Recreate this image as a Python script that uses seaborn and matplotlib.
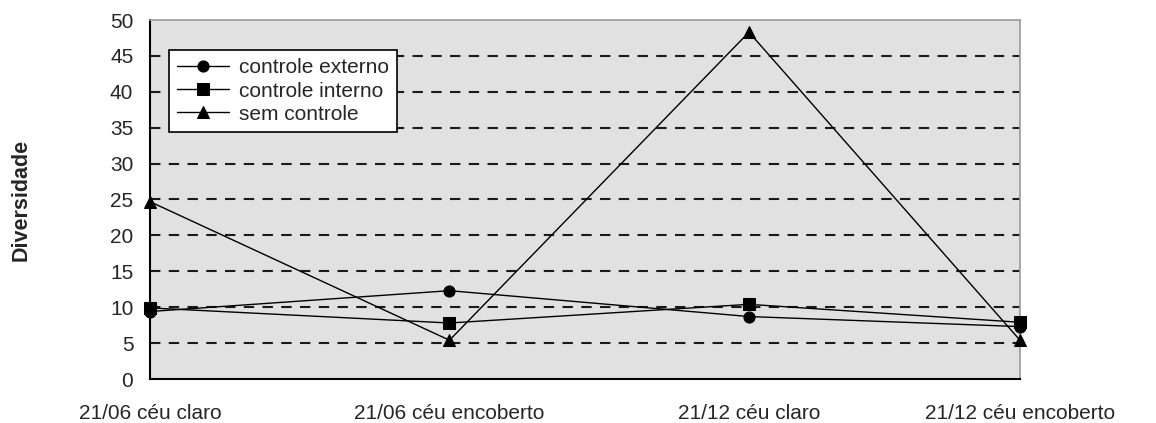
import matplotlib
matplotlib.use("Agg")
import matplotlib.pyplot as plt
import seaborn as sns
import pandas as pd

categories = ["21/06 céu claro", "21/06 céu encoberto", "21/12 céu claro", "21/12 céu encoberto"]
controle_externo = [9.4, 12.3, 8.7, 7.3]
controle_interno = [9.9, 7.8, 10.4, 7.9]
sem_controle = [24.7, 5.4, 48.3, 5.4]
series_names = ["controle externo", "controle interno", "sem controle"]
yticks = [0, 5, 10, 15, 20, 25, 30, 35, 40, 45, 50]
# category positions on the axis (the reference's last category sits slightly closer)
x_positions = [0, 1, 2, 2.905]

rows = []
for name, vals in zip(series_names, [controle_externo, controle_interno, sem_controle]):
    for xp, v in zip(x_positions, vals):
        rows.append({"x": xp, "valor": v, "serie": name})
df = pd.DataFrame(rows)

sns.set_style("white")
plt.rcParams['font.family'] = ['Liberation Sans', 'DejaVu Sans']

fig = plt.figure(figsize=(11.56, 4.23), dpi=100)
ax = fig.add_axes([150/1156, 44/423, (1020-150)/1156, (379-20)/423])
ax.set_facecolor("#e1e1e1")

sns.lineplot(data=df, x="x", y="valor", hue="serie", style="serie",
             palette=["black"]*3, markers=["o", "s", "^"], dashes=False,
             linewidth=1.0, markersize=8, markeredgecolor="black", ax=ax,
             clip_on=False, zorder=3)

ax.set_xlim(x_positions[0], x_positions[-1])
ax.set_ylim(0, 50)
ax.set_yticks(yticks)
ax.set_xticks(x_positions)
ax.set_xticklabels(categories, fontsize=15)
ax.tick_params(axis="y", labelsize=15, direction="inout", length=10, width=1.2, pad=7)
ax.tick_params(axis="x", direction="inout", length=10, width=1.2, pad=13)
for v in yticks[1:-1]:
    ax.axhline(v, color="#1a1a1a", linestyle=(0, (5, 4)), linewidth=1.5, zorder=0.5)
ax.set_xlabel("")
ax.set_ylabel("")
fig.text(21/1156, 1 - 200/423, "Diversidade", rotation=90, ha="center", va="center",
         fontsize=15.5, fontweight="bold")

for s in ["top", "right"]:
    ax.spines[s].set_color("#9a9a9a")
    ax.spines[s].set_linewidth(1.2)
for s in ["left", "bottom"]:
    ax.spines[s].set_color("black")
    ax.spines[s].set_linewidth(1.5)

handles, labels = ax.get_legend_handles_labels()
leg = ax.legend(handles, labels, loc="upper left", bbox_to_anchor=(0.0218, 0.9164),
                frameon=True, fancybox=False, framealpha=1, edgecolor="black",
                fontsize=15, handlelength=2.5, borderpad=0.4, labelspacing=0.2,
                handletextpad=0.45, borderaxespad=0)
leg.get_frame().set_linewidth(1.2)
leg.set_zorder(5)

fig.savefig("out.png", dpi=100)
